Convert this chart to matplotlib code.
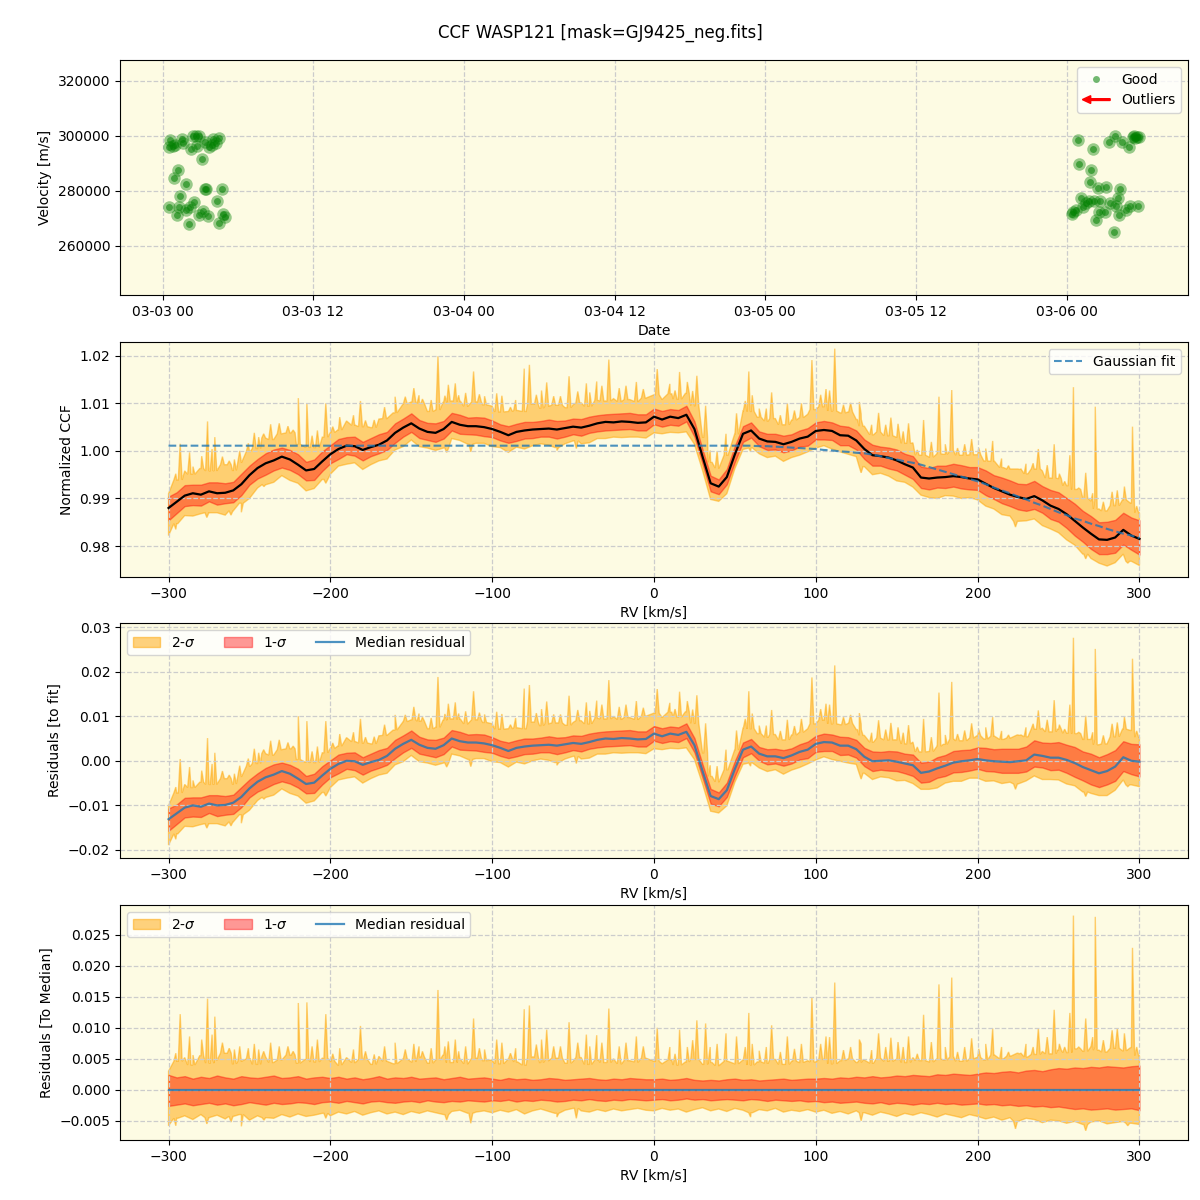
import numpy as np
import datetime as dt
import matplotlib
matplotlib.use("Agg")
import matplotlib.pyplot as plt
import matplotlib.dates as mdates
import matplotlib.patches as mpatches
from matplotlib.legend_handler import HandlerPatch

# ---- RV time series (hours after 03-03 00:00) ----
obs_hours = [0.61, 0.48, 0.80, 0.99, 1.59, 1.65, 2.45, 2.66, 2.92, 2.71, 2.26, 3.40, 3.72,
             4.04, 4.25, 4.46, 3.94, 3.11, 1.27, 0.88, 1.86, 3.40, 3.50, 4.70, 1.43, 0.53,
             1.33, 1.12, 1.86, 2.18, 2.50, 2.07, 2.87, 3.19, 3.66, 4.30, 4.78, 4.94, 4.52,
             72.88, 74.07, 72.96, 73.97, 73.89, 74.50, 75.14, 76.28, 73.17, 76.06, 72.53,
             72.43, 72.75, 73.27, 73.55, 73.81, 74.21, 74.68, 75.46, 75.93, 74.55, 75.03,
             76.14, 76.68, 77.00, 77.66, 74.34, 75.74, 75.35, 75.82, 76.41, 76.94, 77.39,
             77.57, 77.79, 77.26, 77.47]
obs_vel = [298545, 295890, 296360, 296850, 298790, 297580, 300000, 300000, 300000, 296360,
           295150, 297940, 295890, 298790, 297330, 299150, 296730, 291640, 287520, 284610,
           282430, 280850, 280850, 280610, 278180, 274180, 274180, 271150, 273090, 274300,
           275880, 268000, 271380, 272730, 270800, 276360, 271640, 270440, 268360,
           298545, 295150, 289700, 287640, 283270, 281200, 281450, 280730, 277580, 277580,
           272240, 271760, 273090, 274300, 275520, 276240, 276480, 276360, 275520, 274550,
           272480, 272240, 271270, 273090, 274670, 274670, 269330, 264970, 297940, 300000,
           297820, 296120, 300000, 299510, 299510, 299510, 299150]

# ---- CCF profile on a 5 km/s grid ----
rv = np.arange(-300, 301, 5)
ccf_median = [
    0.9880, 0.9893, 0.9906, 0.9911, 0.9908, 0.9915, 0.9911, 0.9912, 0.9917, 0.9930,
    0.9949, 0.9964, 0.9974, 0.9980, 0.9988, 0.9982, 0.9971, 0.9959, 0.9962, 0.9978,
    0.9993, 1.0004, 1.0011, 1.0010, 1.0002, 1.0008, 1.0013, 1.0022, 1.0038, 1.0049,
    1.0058, 1.0047, 1.0040, 1.0038, 1.0046, 1.0061, 1.0055, 1.0052, 1.0052, 1.0050,
    1.0046, 1.0040, 1.0033, 1.0040, 1.0043, 1.0045, 1.0046, 1.0047, 1.0045, 1.0048,
    1.0051, 1.0049, 1.0053, 1.0058, 1.0061, 1.0060, 1.0062, 1.0061, 1.0059, 1.0060,
    1.0072, 1.0066, 1.0072, 1.0069, 1.0076, 1.0046, 0.9988, 0.9932, 0.9925, 0.9945,
    0.9993, 1.0036, 1.0043, 1.0026, 1.0020, 1.0019, 1.0014, 1.0019, 1.0026, 1.0030,
    1.0042, 1.0044, 1.0042, 1.0033, 1.0032, 1.0022, 1.0004, 0.9991, 0.9989, 0.9986,
    0.9980, 0.9972, 0.9965, 0.9944, 0.9942, 0.9944, 0.9945, 0.9947, 0.9945, 0.9942,
    0.9940, 0.9931, 0.9922, 0.9915, 0.9908, 0.9903, 0.9899, 0.9905, 0.9896, 0.9885,
    0.9878, 0.9867, 0.9853, 0.9839, 0.9826, 0.9814, 0.9813, 0.9818, 0.9834, 0.9822,
    0.9815]
gauss_fit = [1.0011] * 72 + [
    1.0011, 1.0010, 1.0010, 1.0009, 1.0008, 1.0007, 1.0006, 1.0005, 1.0004,
    1.0002, 1.0001, 0.9999, 0.9998, 0.9996, 0.9995, 0.9992, 0.9989, 0.9985, 0.9982,
    0.9978, 0.9975, 0.9971, 0.9966, 0.9961, 0.9956, 0.9951, 0.9946, 0.9941, 0.9936,
    0.9930, 0.9923, 0.9917, 0.9911, 0.9904, 0.9898, 0.9891, 0.9885, 0.9878, 0.9871,
    0.9865, 0.9858, 0.9853, 0.9847, 0.9842, 0.9836, 0.9831, 0.9826, 0.9822, 0.9817]

# band offsets from the median, in units of 1e-3
sig1_up = [
    2.4, 2.0, 2.2, 1.8, 2.1, 1.9, 2.3, 2.0, 1.8, 2.2, 2.0, 1.9, 2.1, 2.3, 1.9, 2.0, 2.2, 1.8, 2.0, 2.1,
    1.9, 2.1, 1.8, 2.0, 1.7, 1.9, 2.2, 1.8, 2.0, 1.9, 2.1, 1.8, 1.9, 2.0, 1.7, 1.9, 2.1, 1.8, 1.9, 2.0,
    1.8, 1.6, 1.9, 1.7, 1.8, 1.6, 1.7, 1.9, 1.8, 1.6, 1.7, 1.8, 1.9, 1.7, 1.6, 1.8, 1.7, 1.9, 1.8, 1.7,
    1.7, 1.8, 1.6, 1.7, 1.9, 1.6, 1.5, 1.6, 1.5, 1.7, 1.8, 1.6, 1.7, 1.5, 1.6, 1.7, 1.8, 1.6, 1.7, 1.8,
    1.8, 1.9, 1.8, 2.0, 1.9, 2.1, 2.0, 2.2, 2.0, 2.1, 2.3, 2.2, 2.4, 2.3, 2.2, 2.5, 2.4, 2.6, 2.5, 2.4,
    2.6, 2.8, 2.7, 2.9, 3.0, 2.8, 3.1, 3.2, 3.0, 3.3, 3.5, 3.4, 3.6, 3.5, 3.7, 3.6, 3.8, 3.7, 3.6, 3.8, 3.9]
sig1_lo = [
    2.6, 2.4, 2.2, 2.5, 2.3, 2.1, 2.4, 2.2, 2.5, 2.3, 2.0, 2.2, 2.4, 2.1, 2.3, 2.2, 2.0, 2.1, 2.3, 2.0,
    1.9, 2.1, 1.8, 2.0, 2.2, 1.9, 1.8, 2.0, 2.1, 1.9, 1.8, 2.0, 1.7, 1.9, 2.0, 1.8, 1.9, 1.7, 1.8, 1.9,
    1.7, 1.8, 1.6, 1.9, 1.7, 1.8, 1.6, 1.7, 1.9, 1.8, 1.6, 1.7, 1.5, 1.7, 1.8, 1.6, 1.7, 1.5, 1.6, 1.7,
    1.6, 1.5, 1.7, 1.6, 1.4, 1.6, 1.5, 1.7, 1.6, 1.5, 1.6, 1.7, 1.5, 1.6, 1.8, 1.6, 1.7, 1.8, 1.7, 1.9,
    1.8, 2.0, 1.9, 2.1, 2.0, 1.9, 2.1, 2.2, 2.0, 2.3, 2.1, 2.2, 2.4, 2.2, 2.3, 2.1, 2.3, 2.2, 2.4, 2.3,
    2.2, 2.4, 2.3, 2.5, 2.4, 2.6, 2.5, 2.7, 2.6, 2.8, 2.7, 2.9, 3.1, 3.0, 3.2, 3.1, 3.0, 3.2, 3.1, 3.0, 3.3]
sig2_up = [
    3.0, 4.6, 5.2, 4.0, 5.5, 4.3, 4.8, 5.9, 4.2, 4.6, 5.0, 4.1, 5.3, 4.4, 4.8, 5.6, 4.3, 4.9, 4.5, 5.1,
    4.6, 4.0, 5.2, 4.4, 4.9, 4.1, 5.4, 4.6, 4.2, 5.0, 4.5, 5.3, 4.3, 4.8, 5.6, 4.4, 4.9, 4.2, 5.1, 4.7,
    4.8, 4.2, 5.0, 4.5, 4.0, 5.3, 4.4, 4.7, 5.1, 4.3, 4.6, 5.2, 4.1, 4.8, 4.4, 5.0, 4.2, 4.7, 4.5, 5.1,
    4.6, 4.2, 4.8, 4.0, 4.5, 4.9, 4.1, 4.4, 3.9, 4.6, 4.2, 4.8, 4.0, 4.5, 4.3, 4.9, 4.1, 4.6, 4.4, 4.7,
    4.5, 4.9, 4.2, 4.7, 5.0, 4.4, 4.8, 4.3, 5.1, 4.6, 4.9, 4.4, 5.2, 4.7, 4.5, 5.0, 4.8, 5.3, 4.6, 5.0,
    5.2, 4.8, 5.6, 5.0, 5.4, 5.9, 5.3, 5.7, 6.2, 5.8, 6.4, 6.0, 6.6, 6.2, 6.9, 6.4, 6.1, 6.7, 6.3, 6.8, 5.5]
sig2_lo = [
    5.8, 4.6, 4.2, 4.8, 4.0, 4.5, 4.1, 4.7, 4.3, 4.0, 4.9, 4.2, 4.5, 4.6, 4.0, 4.4, 3.9, 4.3, 4.1, 3.8,
    4.2, 3.6, 3.9, 3.5, 4.1, 3.7, 3.4, 3.9, 3.6, 4.0, 3.5, 3.8, 3.4, 3.7, 4.0, 3.5, 3.3, 3.8, 3.6, 3.4,
    3.7, 3.3, 3.6, 3.2, 3.9, 3.4, 3.1, 3.5, 3.8, 3.3, 3.0, 3.4, 3.6, 3.2, 3.5, 3.1, 3.4, 3.2, 3.0, 3.3,
    3.4, 3.0, 3.3, 3.1, 3.6, 3.2, 2.9, 3.4, 3.1, 3.5, 3.0, 3.3, 3.7, 3.2, 3.4, 3.0, 3.6, 3.3, 3.5, 3.2,
    3.6, 3.3, 3.8, 3.5, 3.9, 3.4, 3.7, 4.1, 3.6, 3.9, 4.3, 3.8, 4.1, 3.7, 4.0, 4.4, 3.9, 4.2, 4.5, 4.0,
    4.3, 4.7, 4.4, 4.9, 4.5, 5.1, 4.6, 4.8, 5.3, 4.9, 5.0, 5.4, 5.1, 5.6, 5.2, 5.0, 5.5, 5.3, 5.1, 5.4, 5.6]

# narrow spikes of the upper 2-sigma envelope (height above median)
spike_rv = [-292.8, -279.5, -275.9, -271.4, -266.7, -256.0, -247.0, -236.9, -219.8, -214.5,
            -208.0, -202.8, -181.4, -160.0, -148.4, -133.5, -122.8, -111.5, -97.2, -80.2,
            -77.0, -66.3, -52.5, -35.4, -27.9, -17.3, 2.0, 15.8, 26.5, 31.9,
            44.5, 51.0, 58.6, 72.7, 82.4, 97.6, 106.3, 111.7, 126.9, 138.8,
            146.4, 157.3, 166.6, 176.1, 184.0, 196.3, 209.3, 237.5, 247.3, 257.0,
            259.2, 266.8, 272.7, 283.1, 286.3, 295.7,
            -295.5, -287.0, -284.9, -273.1, -262.5, -259.3, -250.7, -244.3, -241.2, -231.6,
            -226.2, -223.0, -211.3, -198.5, -194.2, -185.7, -178.3, -172.9, -166.5, -153.7,
            -145.2, -143.1, -137.7, -129.2, -127.1, -120.7, -116.4, -107.9, -104.7, -94.0,
            -88.7, -85.5, -72.7, -69.5, -62.0, -57.8, -47.1, -41.8, -39.7, -32.2,
            -21.5, -10.9, -6.6, 9.8, 13.0, 20.6, 23.9, 34.7, 39.0, 56.4,
            60.7, 65.0, 69.4, 78.1, 86.8, 91.1, 103.0, 108.5, 117.1, 121.5,
            128.0, 134.5, 143.2, 150.8, 154.0, 162.7, 171.4, 180.0, 187.6, 192.0,
            200.7, 205.0, 214.8, 219.1, 225.6, 229.9, 234.3, 243.0, 250.5, 253.8,
            262.5, 271.1, 277.7, 290.7, 298.3]
spike_top = [0.0122, 0.0081, 0.0147, 0.0118, 0.0076, 0.0070, 0.0074, 0.0076, 0.0140, 0.0141,
             0.0081, 0.0122, 0.0103, 0.0076, 0.0074, 0.0161, 0.0081, 0.0115, 0.0081, 0.0130,
             0.0136, 0.0097, 0.0109, 0.0088, 0.0131, 0.0076, 0.0100, 0.0097, 0.0112, 0.0107,
             0.0091, 0.0086, 0.0124, 0.0104, 0.0086, 0.0149, 0.0086, 0.0173, 0.0081, 0.0091,
             0.0084, 0.0086, 0.0121, 0.0170, 0.0181, 0.0083, 0.0099, 0.0099, 0.0129, 0.0124,
             0.0281, 0.0115, 0.0279, 0.0096, 0.0099, 0.0229,
             0.0059, 0.0086, 0.0056, 0.0089, 0.0067, 0.0065, 0.0067, 0.0065, 0.0062, 0.0070,
             0.0070, 0.0062, 0.0070, 0.0058, 0.0067, 0.0065, 0.0062, 0.0057, 0.0070, 0.0065,
             0.0070, 0.0062, 0.0067, 0.0070, 0.0078, 0.0062, 0.0070, 0.0067, 0.0065, 0.0076,
             0.0059, 0.0067, 0.0073, 0.0081, 0.0070, 0.0070, 0.0076, 0.0089, 0.0070, 0.0076,
             0.0070, 0.0086, 0.0070, 0.0069, 0.0058, 0.0069, 0.0080, 0.0069, 0.0074, 0.0069,
             0.0074, 0.0063, 0.0069, 0.0061, 0.0066, 0.0074, 0.0074, 0.0085, 0.0064, 0.0069,
             0.0074, 0.0064, 0.0069, 0.0077, 0.0069, 0.0058, 0.0077, 0.0069, 0.0061, 0.0069,
             0.0066, 0.0074, 0.0069, 0.0061, 0.0058, 0.0074, 0.0069, 0.0085, 0.0074, 0.0069,
             0.0069, 0.0085, 0.0080, 0.0091, 0.0069]

# deeper dips of the lower 2-sigma envelope (offset below median)
dip_rv = [-295.5, -276.3, -261.4, -255.0, -241.0, -202.8, -128.1, -113.2, -60.0, -48.0,
          59.7, 128.0, 223.4, 266.8, 292.8]
dip_depth = [0.0058, 0.0055, 0.0052, 0.0059, 0.0049, 0.0046, 0.0049, 0.0054, 0.0044, 0.0046,
             0.0044, 0.0050, 0.0063, 0.0066, 0.0058]

med = np.array(ccf_median)
fit = np.array(gauss_fit)
s1u = np.array(sig1_up) * 1e-3
s1l = np.array(sig1_lo) * 1e-3
s2u = np.array(sig2_up) * 1e-3
s2l = np.array(sig2_lo) * 1e-3

BG = '#fdfbe3'


def edge_with_spikes(edge, center, where, amount, sign):
    xs = list(rv)
    ys = list(edge)
    for r, h in zip(where, amount):
        i = np.abs(rv - r).argmin()
        xs += [r - 1.2, r, r + 1.2]
        ys += [edge[i], center[i] + sign * h, edge[i]]
    order = np.argsort(xs, kind='stable')
    return np.array(xs)[order], np.array(ys)[order]


def two_sigma_polygon(center):
    ux, uy = edge_with_spikes(center + s2u, center, spike_rv, spike_top, 1)
    lx, ly = edge_with_spikes(center - s2l, center, dip_rv, dip_depth, -1)
    px = np.concatenate([ux, lx[::-1]])
    py = np.concatenate([uy, ly[::-1]])
    return px, py


def draw_bands(ax, center):
    px, py = two_sigma_polygon(center)
    p2 = ax.fill(px, py, color='orange', alpha=0.5, lw=1, label='2-$\\sigma$')[0]
    p1 = ax.fill_between(rv, center - s1l, center + s1u, color='red', alpha=0.4, lw=1,
                         label='1-$\\sigma$')
    return p2, p1


def style(ax):
    ax.set_facecolor(BG)
    ax.grid(True, linestyle='--', color='#cccccc', lw=0.9)


def make_arrow(legend, orig_handle, xdescent, ydescent, width, height, fontsize):
    return mpatches.FancyArrow(width, 0.5 * height, -width, 0, width=0.18 * height,
                               head_width=0.8 * height, head_length=0.3 * width,
                               length_includes_head=True)


fig = plt.figure(figsize=(12, 12), dpi=100)
fig.suptitle('CCF WASP121 [mask=GJ9425_neg.fits]', fontsize=12, y=0.98)

# panel 1: velocities
ax1 = fig.add_axes([0.10, 0.7542, 0.89, 0.1958])
style(ax1)
t0 = dt.datetime(2023, 3, 3)
dates = [t0 + dt.timedelta(hours=h) for h in obs_hours]
ax1.plot(dates, obs_vel, 'o', color='green', alpha=0.4, ms=9, mew=0)
good, = ax1.plot(dates, obs_vel, 'o', color='green', alpha=0.55, ms=5, mew=0, label='Good')
arrow_proxy = mpatches.FancyArrow(0, 0, 1, 0, color='red')
ax1.legend([good, arrow_proxy], ['Good', 'Outliers'], loc='upper right',
           handler_map={mpatches.FancyArrow: HandlerPatch(patch_func=make_arrow)})
ax1.set_ylim(242200, 327600)
ax1.ticklabel_format(axis='y', style='plain', useOffset=False)
ax1.xaxis.set_major_locator(mdates.HourLocator(byhour=[0, 12]))
ax1.xaxis.set_major_formatter(mdates.DateFormatter('%m-%d %H'))
ax1.set_xlabel('Date')
ax1.set_ylabel('Velocity [m/s]')

# panel 2: CCF
ax2 = fig.add_axes([0.10, 0.5192, 0.89, 0.1958])
style(ax2)
draw_bands(ax2, med)
ax2.plot(rv, med, color='black', lw=1.6, zorder=3)
fl, = ax2.plot(rv, fit, '--', color='tab:blue', alpha=0.8, lw=1.5, label='Gaussian fit', zorder=3)
ax2.legend(handles=[fl], loc='upper right')
ax2.set_ylim(0.9735, 1.0229)
ax2.set_xlabel('RV [km/s]')
ax2.set_ylabel('Normalized CCF')

# panel 3: residuals to fit
res = med - fit
ax3 = fig.add_axes([0.10, 0.2850, 0.89, 0.1958])
style(ax3)
p2, p1 = draw_bands(ax3, res)
ml, = ax3.plot(rv, res, color='tab:blue', alpha=0.8, lw=1.6, label='Median residual', zorder=3)
ax3.legend(handles=[p2, p1, ml], loc='upper left', ncol=3)
ax3.set_ylim(-0.0218, 0.0309)
ax3.set_xlabel('RV [km/s]')
ax3.set_ylabel('Residuals [to fit]')

# panel 4: residuals to median
zero = np.zeros(len(rv))
ax4 = fig.add_axes([0.10, 0.0500, 0.89, 0.1958])
style(ax4)
p2, p1 = draw_bands(ax4, zero)
ml, = ax4.plot(rv, zero, color='tab:blue', alpha=0.8, lw=1.6, label='Median residual', zorder=3)
ax4.legend(handles=[p2, p1, ml], loc='upper left', ncol=3)
ax4.set_ylim(-0.0081, 0.0298)
ax4.set_xlabel('RV [km/s]')
ax4.set_ylabel('Residuals [To Median]')

for ax in (ax2, ax3, ax4):
    ax.set_xlim(-330, 330)

fig.savefig('out.png', dpi=100)
